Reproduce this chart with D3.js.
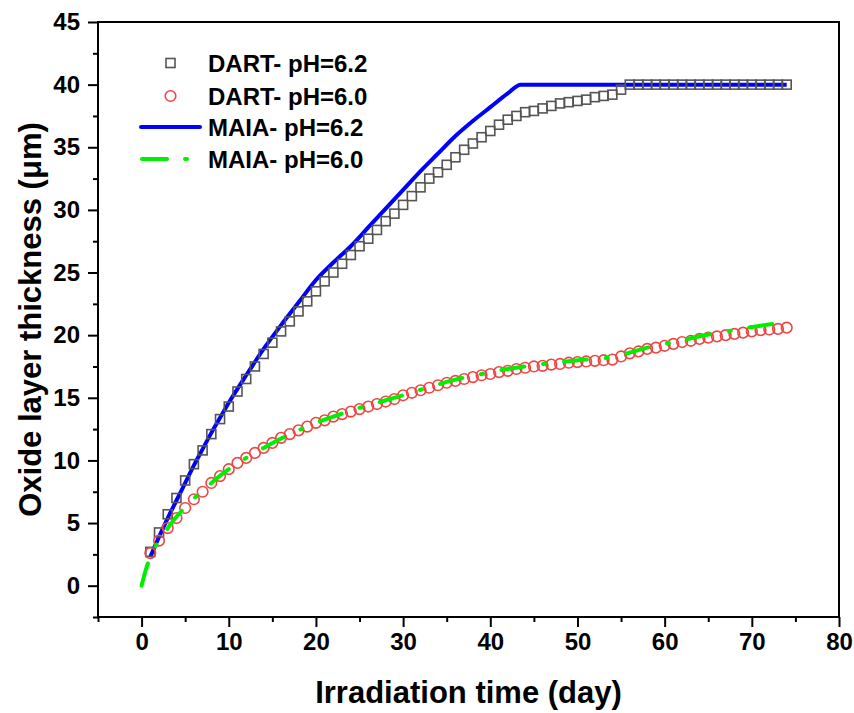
<!DOCTYPE html>
<html lang="en">
  <head>
    <title>Oxide layer thickness</title>
    <meta charset="utf-8" />
    <script src="https://cdn.jsdelivr.net/npm/d3@7"></script>
    <style>
      html, body { margin: 0; padding: 0; background: #fff; overflow: hidden; }
      svg { display: block; }
    </style>
  </head>
  <body>
    <svg id="chart" width="854" height="713" viewBox="0 0 854 713"></svg>
    <script>
      // DART pH=6.2 (squares), one point per day
      const dartDays = d3.range(1, 75);
      const dart62 = [
        2.7, 4.25, 5.7, 7.0, 8.4, 9.7, 10.8, 12.1, 13.3, 14.3,
        15.5, 16.5, 17.5, 18.5, 19.4, 20.3, 21.1, 21.9, 22.7, 23.5,
        24.3, 25.0, 25.7, 26.4, 27.1, 27.7, 28.4, 29.1, 29.7, 30.4,
        31.1, 31.8, 32.5, 33.0, 33.6, 34.2, 34.8, 35.3, 35.8, 36.3,
        36.8, 37.2, 37.5, 37.8, 37.9, 38.1, 38.3, 38.5, 38.6, 38.7,
        38.8, 39.0, 39.1, 39.2, 39.6, 40, 40, 40, 40, 40,
        40, 40, 40, 40, 40, 40, 40, 40, 40, 40,
        40, 40, 40, 40
      ];
      // DART pH=6.0 (circles)
      const dart60 = [
        2.6, 3.6, 4.6, 5.4, 6.2, 6.9, 7.5, 8.2, 8.75, 9.3,
        9.8, 10.2, 10.6, 11.0, 11.4, 11.8, 12.1, 12.4, 12.7, 13.0,
        13.2, 13.5, 13.7, 13.9, 14.1, 14.3, 14.5, 14.7, 14.9, 15.2,
        15.4, 15.6, 15.8, 16.0, 16.2, 16.35, 16.5, 16.65, 16.8, 16.9,
        17.05, 17.15, 17.3, 17.4, 17.5, 17.55, 17.65, 17.7, 17.8, 17.85,
        17.9, 17.95, 18.0, 18.05, 18.3, 18.55, 18.7, 18.9, 19.0, 19.15,
        19.3, 19.45, 19.55, 19.7, 19.8, 19.9, 20.0, 20.1, 20.2, 20.3,
        20.4, 20.45, 20.5, 20.6
      ];
      // MAIA pH=6.2 (solid blue)
      const maia62Days = [1, 2, 3, 4, 5, 6, 7, 8, 9, 10, 12, 14, 16, 18, 20, 22, 24, 26, 28, 30, 32, 34, 36, 38, 40, 42, 43.5, 74];
      const maia62 = [2.3, 3.9, 5.4, 6.8, 8.2, 9.6, 10.9, 12.2, 13.4, 14.6, 16.8, 18.9, 20.8, 22.6, 24.4, 25.8, 27.1, 28.6, 30.1, 31.6, 33.1, 34.5, 35.9, 37.1, 38.2, 39.3, 40.0, 40.0];
      // MAIA pH=6.0 (green dash-dot)
      const maia60Days = [0, 0.5, 1, 2, 3, 4, 5, 6, 8, 10, 12, 14, 16, 18, 20, 22, 25, 28, 30, 33, 36, 39, 42, 45, 48, 51, 54, 56, 58, 60, 62, 65, 68, 71, 74];
      const maia60 = [0, 1.3, 2.3, 3.6, 4.6, 5.5, 6.25, 6.95, 8.2, 9.3, 10.2, 11.0, 11.75, 12.4, 13.0, 13.5, 14.2, 14.8, 15.2, 15.85, 16.45, 16.9, 17.3, 17.6, 17.85, 18.05, 18.25, 18.6, 19.0, 19.3, 19.6, 20.05, 20.4, 20.75, 21.05];

      const xTicks = [0, 10, 20, 30, 40, 50, 60, 70, 80];
      const yTicks = [0, 5, 10, 15, 20, 25, 30, 35, 40, 45];
      const legendLabels = ["DART- pH=6.2", "DART- pH=6.0", "MAIA- pH=6.2", "MAIA- pH=6.0"];

      const font = "'Liberation Sans', Arial, sans-serif";
      const margin = { top: 22, right: 15, bottom: 96, left: 98 };
      const svg = d3.select("#chart").attr("font-family", font);
      const width = +svg.attr("width");
      const height = +svg.attr("height");
      const innerWidth = width - margin.left - margin.right;
      const innerHeight = height - margin.top - margin.bottom;

      const g = svg.append("g").attr("transform", `translate(${margin.left},${margin.top})`);

      const x = d3.scaleLinear().domain([-5, 80]).range([0, innerWidth]);
      const y = d3.scaleLinear().domain([-2.5, 45]).range([innerHeight, 0]);

      // frame
      g.append("rect")
        .attr("width", innerWidth)
        .attr("height", innerHeight)
        .attr("fill", "none")
        .attr("stroke", "#000")
        .attr("stroke-width", 2);

      // axes: major ticks with labels, minor ticks halfway
      g.append("g")
        .attr("transform", `translate(0,${innerHeight})`)
        .call(d3.axisBottom(x).tickValues(xTicks).tickSize(10).tickPadding(6).tickFormat(d3.format("d")));
      g.append("g")
        .attr("class", "minor")
        .attr("transform", `translate(0,${innerHeight})`)
        .call(d3.axisBottom(x).tickValues(xTicks.map(d => d - 5)).tickSize(5));

      g.append("g")
        .call(d3.axisLeft(y).tickValues(yTicks).tickSize(10).tickPadding(8).tickFormat(d3.format("d")));
      g.append("g")
        .attr("class", "minor")
        .call(d3.axisLeft(y).tickValues(yTicks.map(d => d - 2.5)).tickSize(5));

      g.selectAll(".minor text").remove();
      g.selectAll(".domain").remove();
      g.selectAll(".tick line").attr("stroke", "#000").attr("stroke-width", 2);
      g.selectAll(".tick text")
        .attr("fill", "#000")
        .attr("font-size", "24px")
        .attr("font-weight", "700")
        .attr("font-family", font);

      // axis titles
      g.append("text")
        .attr("x", innerWidth / 2)
        .attr("y", innerHeight + 86)
        .attr("text-anchor", "middle")
        .attr("font-size", "31px")
        .attr("font-weight", "700")
        .text("Irradiation time (day)");

      g.append("text")
        .attr("transform", "rotate(-90)")
        .attr("x", -innerHeight / 2)
        .attr("y", -57)
        .attr("text-anchor", "middle")
        .attr("font-size", "31px")
        .attr("font-weight", "700")
        .text("Oxide layer thickness (\u03bcm)");

      const colors = { sq: "#555555", circ: "#f04444", blue: "#0000ff", green: "#00ee00" };
      const greenDash = "23,19,2,19";

      const plot = g.append("g");

      // MAIA pH=6.2
      plot.append("path")
        .datum(maia62Days.map((d, i) => [d, maia62[i]]))
        .attr("fill", "none")
        .attr("stroke", colors.blue)
        .attr("stroke-width", 4)
        .attr("stroke-linejoin", "round")
        .attr("d", d3.line().x(d => x(d[0])).y(d => y(d[1])).curve(d3.curveMonotoneX));

      // DART pH=6.2 squares
      plot.selectAll(".sq")
        .data(dartDays.map((d, i) => [d, dart62[i]]))
        .enter()
        .append("rect")
        .attr("x", d => x(d[0]) - 4.5)
        .attr("y", d => y(d[1]) - 4.5)
        .attr("width", 9)
        .attr("height", 9)
        .attr("fill", "none")
        .attr("stroke", colors.sq)
        .attr("stroke-width", 1.6);

      // DART pH=6.0 circles
      plot.selectAll(".circ")
        .data(dartDays.map((d, i) => [d, dart60[i]]))
        .enter()
        .append("circle")
        .attr("cx", d => x(d[0]))
        .attr("cy", d => y(d[1]))
        .attr("r", 5.3)
        .attr("fill", "none")
        .attr("stroke", colors.circ)
        .attr("stroke-width", 1.6);

      // MAIA pH=6.0
      plot.append("path")
        .datum(maia60Days.map((d, i) => [d, maia60[i]]))
        .attr("fill", "none")
        .attr("stroke", colors.green)
        .attr("stroke-width", 4)
        .attr("stroke-linecap", "round")
        .attr("stroke-dasharray", greenDash)
        .attr("d", d3.line().x(d => x(d[0])).y(d => y(d[1])).curve(d3.curveMonotoneX));

      // legend
      const legend = svg.append("g");
      const rowY = [63, 96, 127, 159];
      legendLabels.forEach((label, i) => {
        legend.append("text")
          .attr("x", 208)
          .attr("y", rowY[i])
          .attr("dominant-baseline", "central")
          .attr("font-size", "24px")
          .attr("font-weight", "700")
          .text(label);
      });
      legend.append("rect")
        .attr("x", 166).attr("y", rowY[0] - 4.5).attr("width", 9).attr("height", 9)
        .attr("fill", "none").attr("stroke", colors.sq).attr("stroke-width", 1.6);
      legend.append("circle")
        .attr("cx", 170.5).attr("cy", rowY[1]).attr("r", 5.3)
        .attr("fill", "none").attr("stroke", colors.circ).attr("stroke-width", 1.6);
      legend.append("line")
        .attr("x1", 141).attr("x2", 200).attr("y1", rowY[2]).attr("y2", rowY[2])
        .attr("stroke", colors.blue).attr("stroke-width", 4).attr("stroke-linecap", "round");
      legend.append("line")
        .attr("x1", 142).attr("x2", 188).attr("y1", rowY[3]).attr("y2", rowY[3])
        .attr("stroke", colors.green).attr("stroke-width", 4).attr("stroke-linecap", "round")
        .attr("stroke-dasharray", "25,18,2,30");
    </script>
  </body>
</html>
